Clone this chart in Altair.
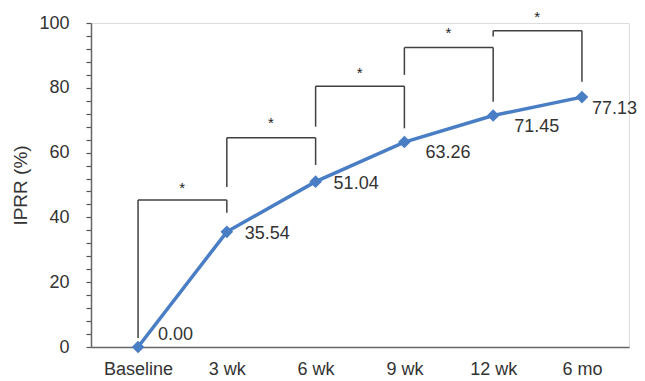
import altair as alt
import pandas as pd

# ---- data ----
categories = ["Baseline", "3 wk", "6 wk", "9 wk", "12 wk", "6 mo"]
iprr = [0.00, 35.54, 51.04, 63.26, 71.45, 77.13]

# significance brackets (pairs of adjacent time points)
br_left = ["Baseline", "3 wk", "6 wk", "9 wk", "12 wk"]
br_right = ["3 wk", "6 wk", "9 wk", "12 wk", "6 mo"]
br_top = [45.4, 64.6, 80.5, 92.4, 97.6]
br_left_bottom = [2.8, 49.4, 68.0, 84.0, 95.8]
br_right_bottom = [41.4, 56.2, 67.5, 75.7, 81.9]
br_star = [49.0, 69.2, 84.7, 96.8, 102.0]
br_mark = ["*", "*", "*", "*", "*"]

y_ticks = list(range(0, 101, 4))

df = pd.DataFrame({"cat": categories, "v": iprr, "idx": list(range(len(categories)))})
bdf = pd.DataFrame({
    "l": br_left, "r": br_right, "top": br_top,
    "lb": br_left_bottom, "rb": br_right_bottom,
    "star": br_star, "mark": br_mark,
})

FONT = "Liberation Sans"
BLUE = "#4a7ec4"
GRAY = "#404040"

xscale = alt.Scale(type="point", domain=categories, padding=0.53)
yscale = alt.Scale(domain=[0, 100], nice=False, zero=True)

xaxis = alt.Axis(title=None, labelAngle=0, ticks=False, labelPadding=13,
                 labelFontSize=18, labelColor="#333333", labelFont=FONT,
                 domainColor="#666666", domainWidth=1.5, grid=False)
yaxis = alt.Axis(title="IPRR (%)", values=y_ticks,
                 labelExpr="datum.value % 20 == 0 ? datum.label : ''",
                 labelFontSize=18, labelColor="#333333", labelFont=FONT,
                 labelPadding=17, tickSize=5, tickColor="#555555",
                 tickWidth=1.2, domainColor="#666666", domainWidth=1.5,
                 titleFontSize=19, titleFont=FONT, titleColor="#333333",
                 titleFontWeight="normal", titlePadding=8, grid=False,
                 labelOverlap=False)


def X(field):
    return alt.X(field, scale=xscale, sort=categories, axis=xaxis, title=None)


def Y(field):
    return alt.Y(field, scale=yscale, axis=yaxis, title="IPRR (%)")


base = alt.Chart(df)

line = base.mark_line(color=BLUE, strokeWidth=3.5).encode(x=X("cat:N"), y=Y("v:Q"))
pts = base.mark_point(shape="diamond", filled=True, size=160, color=BLUE, opacity=1).encode(
    x=X("cat:N"), y=Y("v:Q"))


def value_labels(cond, dx, dy):
    return base.transform_filter(cond).mark_text(
        align="left", baseline="middle", dx=dx, dy=dy, fontSize=18, font=FONT,
        color="#333333"
    ).encode(x=X("cat:N"), y=Y("v:Q"), text=alt.Text("v:Q", format=".2f"))


lab0 = value_labels("datum.idx == 0", 20, -12)
lab1 = value_labels("datum.idx == 1 || datum.idx == 2", 18, 2)
lab2 = value_labels("datum.idx == 3 || datum.idx == 4", 21, 11)
lab3 = value_labels("datum.idx == 5", 10, 12)

bbase = alt.Chart(bdf)
top_rule = bbase.mark_rule(color=GRAY, strokeWidth=1.5).encode(
    x=X("l:N"), x2="r:N", y=Y("top:Q"))
left_leg = bbase.mark_rule(color=GRAY, strokeWidth=1.5).encode(
    x=X("l:N"), y=Y("top:Q"), y2="lb:Q")
right_leg = bbase.mark_rule(color=GRAY, strokeWidth=1.5).encode(
    x=X("r:N"), y=Y("top:Q"), y2="rb:Q")
stars = bbase.mark_text(fontSize=15, font=FONT, color="#222222", dx=44, baseline="middle").encode(
    x=X("l:N"), y=Y("star:Q"), text="mark:N")

chart = alt.layer(
    line, top_rule, left_leg, right_leg, stars, pts, lab0, lab1, lab2, lab3
).properties(
    width=538, height=324,
    autosize=alt.AutoSizeParams(type="none"),
    padding={"left": 83, "top": 15, "right": 8, "bottom": 30},
).configure_view(stroke=None).configure(background="white")

chart.save("out.html", embed_options={"renderer": "svg", "actions": False})
